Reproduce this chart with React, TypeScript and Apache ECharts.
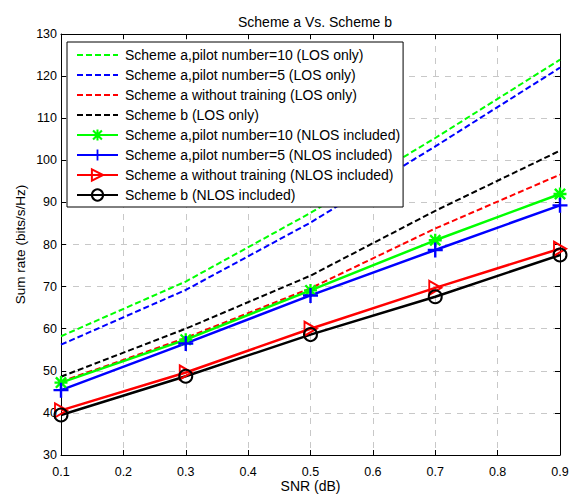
import React, { useEffect, useRef } from "react";
import * as echarts from "echarts";

const snr = [0.1, 0.3, 0.5, 0.7, 0.9];
const p10LOS = [58.2, 71.2, 87.5, 105.3, 123.9];
const p5LOS = [56.2, 69.2, 85.2, 103.3, 122.0];
const noTrainLOS = [47.4, 57.8, 69.6, 83.8, 96.6];
const bLOS = [48.6, 60.0, 72.6, 88.0, 102.3];
const p10NLOS = [47.2, 57.4, 69.1, 81.0, 92.0];
const p5NLOS = [45.4, 56.5, 67.9, 78.7, 89.3];
const noTrainNLOS = [40.6, 49.6, 60.0, 69.7, 79.0];
const bNLOS = [39.5, 48.7, 58.6, 67.6, 77.5];

const names = [
  "Scheme a,pilot number=10 (LOS only)",
  "Scheme a,pilot number=5 (LOS only)",
  "Scheme a without training (LOS only)",
  "Scheme b (LOS only)",
  "Scheme a,pilot number=10 (NLOS included)",
  "Scheme a,pilot number=5 (NLOS included)",
  "Scheme a without training (NLOS included)",
  "Scheme b (NLOS included)",
];

const FONT = "Liberation Sans, Arial, Helvetica, sans-serif";

const starPath =
  "path://M8.2,0H11.8V20H8.2Z M0,8.2H20V11.8H0Z M0.8,3.4L3.4,0.8L19.2,16.6L16.6,19.2Z M16.6,0.8L19.2,3.4L3.4,19.2L0.8,16.6Z";
const plusPath = "path://M8.4,0H11.6V20H8.4Z M0,8.4H20V11.6H0Z";
const triPath = "path://M0,0L17,10L0,20Z";

function pts(ys: number[]) {
  return snr.map((x, i) => [x, ys[i]]);
}

export default function App() {
  const ref = useRef<HTMLDivElement>(null);
  useEffect(() => {
    if (!ref.current) return;
    const chart = echarts.init(ref.current, undefined, { renderer: "svg" });
    const dashed = (name: string, color: string, ys: number[]) => ({
      name,
      type: "line",
      data: pts(ys),
      symbol: "none",
      lineStyle: { color, width: 2, type: [6, 3] },
      itemStyle: { color },
      z: 2,
    });
    const solid = (
      name: string,
      color: string,
      ys: number[],
      symbol: string,
      size: number | number[],
      hollow: boolean
    ) => ({
      name,
      type: "line",
      data: pts(ys),
      symbol,
      symbolSize: size,
      showAllSymbol: true,
      lineStyle: { color, width: 2.5 },
      itemStyle: hollow
        ? { color: "rgba(0,0,0,0)", borderColor: color, borderWidth: 2 }
        : { color, borderWidth: 0 },
      z: 3,
    });
    const legendData = names.map((n, i) =>
      i < 4
        ? { name: n, itemStyle: { color: "rgba(0,0,0,0)", borderWidth: 0, opacity: 0 } }
        : { name: n }
    );
    chart.setOption({
      animation: false,
      backgroundColor: "#fff",
      textStyle: { fontFamily: FONT },
      title: {
        text: "Scheme a Vs. Scheme b",
        left: 310,
        top: 10,
        textAlign: "center",
        textStyle: { fontFamily: FONT, fontSize: 14, fontWeight: "normal", color: "#000" },
      },
      grid: {
        left: 61,
        right: 9,
        top: 34,
        bottom: 40,
        show: false,
        containLabel: false,
        outerBoundsMode: "none",
      },
      legend: {
        orient: "vertical",
        left: 67,
        top: 42,
        itemWidth: 41,
        itemHeight: 14,
        itemGap: 6,
        padding: [6, 3, 5, 9],
        backgroundColor: "#fff",
        borderColor: "#000",
        borderWidth: 1,
        borderRadius: 0,
        textStyle: { fontFamily: FONT, fontSize: 14, color: "#000", lineHeight: 14, padding: [0, 0, 0, 2] },
        data: legendData,
        z: 10,
      },
      xAxis: [
        {
          type: "value",
          min: 0.1,
          max: 0.9,
          interval: 0.1,
          name: "SNR (dB)",
          nameLocation: "middle",
          nameGap: 24,
          nameMoveOverlap: false,
          nameTextStyle: { fontFamily: FONT, fontSize: 14, color: "#000" },
          axisLine: { lineStyle: { color: "#000", width: 1 } },
          axisTick: { inside: true, length: 5, lineStyle: { color: "#000" } },
          axisLabel: { fontFamily: FONT, fontSize: 12.5, color: "#000", margin: 10, formatter: (v: number) => v.toFixed(1) },
          splitLine: { show: true, lineStyle: { color: "#c8c8c8", type: [6, 6], width: 1 } },
        },
        {
          type: "value",
          position: "top",
          min: 0.1,
          max: 0.9,
          interval: 0.1,
          axisLine: { lineStyle: { color: "#000", width: 1 } },
          axisTick: { inside: true, length: 5, lineStyle: { color: "#000" } },
          axisLabel: { show: false },
          splitLine: { show: false },
        },
      ],
      yAxis: [
        {
          type: "value",
          min: 30,
          max: 130,
          interval: 10,
          name: "Sum rate (bits/s/Hz)",
          nameLocation: "middle",
          nameGap: 34,
          nameMoveOverlap: false,
          nameTextStyle: { fontFamily: FONT, fontSize: 13.5, color: "#000" },
          axisLine: { show: true, lineStyle: { color: "#000", width: 1 } },
          axisTick: { show: true, inside: true, length: 5, lineStyle: { color: "#000" } },
          axisLabel: { fontFamily: FONT, fontSize: 12.5, color: "#000", margin: 4 },
          splitLine: { show: true, lineStyle: { color: "#c8c8c8", type: [6, 6], width: 1 } },
        },
        {
          type: "value",
          position: "right",
          min: 30,
          max: 130,
          interval: 10,
          axisLine: { show: true, lineStyle: { color: "#000", width: 1 } },
          axisTick: { show: true, inside: true, length: 5, lineStyle: { color: "#000" } },
          axisLabel: { show: false },
          splitLine: { show: false },
        },
      ],
      series: [
        dashed(names[0], "#00ff00", p10LOS),
        dashed(names[1], "#0000ff", p5LOS),
        dashed(names[2], "#ff0000", noTrainLOS),
        dashed(names[3], "#000000", bLOS),
        solid(names[4], "#00ff00", p10NLOS, starPath, 13, false),
        solid(names[5], "#0000ff", p5NLOS, plusPath, 15, false),
        solid(names[6], "#ff0000", noTrainNLOS, triPath, [12, 14], true),
        solid(names[7], "#000000", bNLOS, "circle", 13, true),
      ],
    });
    return () => chart.dispose();
  }, []);
  return (
    <div
      ref={ref}
      style={{ position: "fixed", left: 0, top: 0, width: 569, height: 495 }}
    />
  );
}
